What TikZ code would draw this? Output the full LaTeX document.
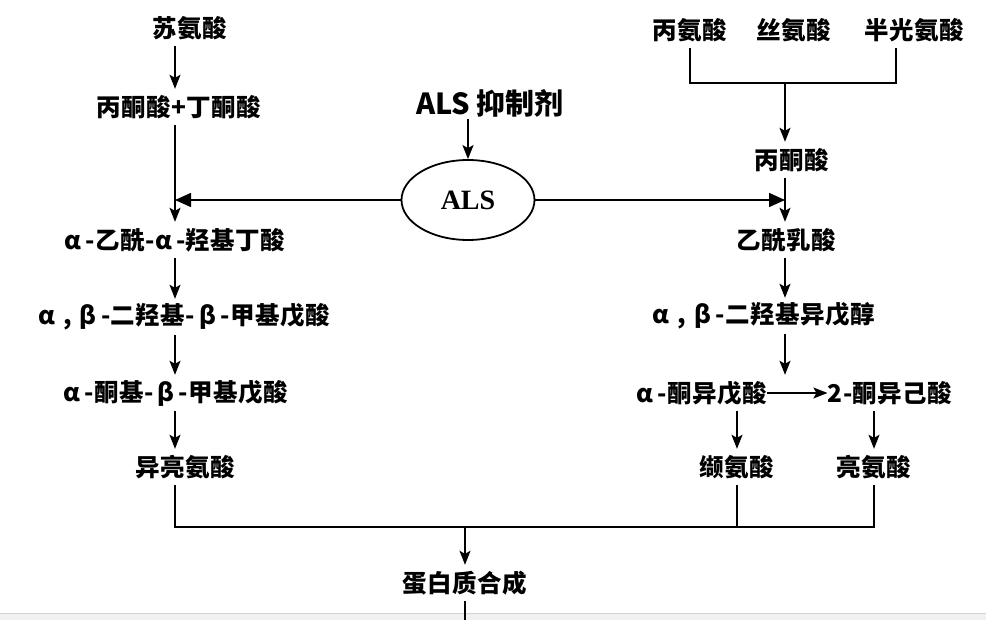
\documentclass[tikz,border=0pt]{standalone}
\usepackage{fontspec}
\setmainfont{Liberation Serif}
\newfontfamily\cjk[LetterSpace=2]{Noto Sans CJK SC}
\newfontfamily\cjkt{Noto Sans CJK SC}
\usetikzlibrary{arrows.meta,shapes.geometric}
\begin{document}
\begin{tikzpicture}[x=1pt,y=-1pt,
  txt/.style={font=\cjk\bfseries\fontsize{24.5}{28}\selectfont, inner sep=0pt, minimum height=36pt},
  ln/.style={line width=1.6pt},
  arr/.style={line width=1.6pt, -{Stealth[length=14pt,width=11pt,inset=3pt]}},
  tri/.style={line width=1.6pt, -{Triangle[length=16pt,width=14pt]}}]
\fill[white] (0,0) rectangle (986,620);
\useasboundingbox (0,0) rectangle (986,620);
\fill[gray!12] (0,613) rectangle (986,620);
\draw[gray!35, line width=1pt] (0,613) -- (986,613);
% left column
\node[txt] (thr)  at (190,28)  {苏氨酸};
\node[txt] (pk2)  at (179,107) {丙酮酸+丁酮酸};
\node[txt] (aahb) at (175,240) {α\,-乙酰-α\,-羟基丁酸};
\node[txt] (dhmv) at (184,317) {α\,\,,\,\,β\,-二羟基-\,β\,-甲基戊酸};
\node[txt] (kmv)  at (176,393) {α\,-酮基-\,β\,-甲基戊酸};
\node[txt] (ile)  at (185,467) {异亮氨酸};
% right column
\node[txt] (ala)  at (690,30)  {丙氨酸};
\node[txt] (ser)  at (794,30)  {丝氨酸};
\node[txt] (cys)  at (914,30)  {半光氨酸};
\node[txt] (pyr)  at (792,160) {丙酮酸};
\node[txt] (al)   at (786,240) {乙酰乳酸};
\node[txt] (dhiv) at (764,316) {α\,\,,\,\,β\,-二羟基异戊醇};
\node[txt] (kiv)  at (702,393) {α\,-酮异戊酸};
\node[txt] (kic)  at (890,393) {2-酮异己酸};
\node[txt] (val)  at (737,467) {缬氨酸};
\node[txt] (leu)  at (874,467) {亮氨酸};
\node[txt] (prot) at (465,583) {蛋白质合成};
% centre
\node[font=\cjkt\bfseries\fontsize{29}{32}\selectfont, inner sep=2pt] (inh) at (490,103) {ALS 抑制剂};
\node[ellipse, draw, line width=1.8pt, minimum width=133pt, minimum height=80pt, inner sep=0pt,
      font=\bfseries\fontsize{28}{32}\selectfont] (als) at (468,200) {ALS};
% helper coordinates
\coordinate (L) at (175,0);
\coordinate (R) at (785,0);
\coordinate (cx) at (896,0);
\coordinate (jn) at (785,83);
\coordinate (bj) at (465,527);
\coordinate (pe) at (465,620);
% left chain
\draw[arr] (thr.south -| L) -- (pk2.north -| L);
\draw[arr] (pk2.south -| L) -- (aahb.north -| L);
\draw[arr] (aahb.south -| L) -- (dhmv.north -| L);
\draw[arr] (dhmv.south -| L) -- (kmv.north -| L);
\draw[arr] (kmv.south -| L) -- (ile.north -| L);
% right chain
\draw[ln] (ala.south) |- (jn) -| (cys.south -| cx);
\draw[arr] (jn) -- (pyr.north -| R);
\draw[arr] (pyr.south -| R) -- (al.north -| R);
\draw[arr] (al.south -| R) -- (dhiv.north -| R);
\draw[arr] (dhiv.south -| R) -- (kiv.north -| R);
\draw[arr] (kiv.east) -- (kic.west);
\draw[arr] (kiv.south -| val) -- (val.north);
\draw[arr] (kic.south -| leu) -- (leu.north);
% ALS
\draw[arr] (inh.south -| als) -- (als.north);
\draw[tri] (als.west) -- (als.west -| L);
\draw[tri] (als.east) -- (als.east -| R);
% bottom
\draw[ln] (ile.south -| L) |- (bj) -| (leu.south);
\draw[ln] (val.south) -- (val.south |- bj);
\draw[arr] (bj) -- (prot.north);
\draw[ln] (prot.south) -- (pe);
\end{tikzpicture}
\end{document}
